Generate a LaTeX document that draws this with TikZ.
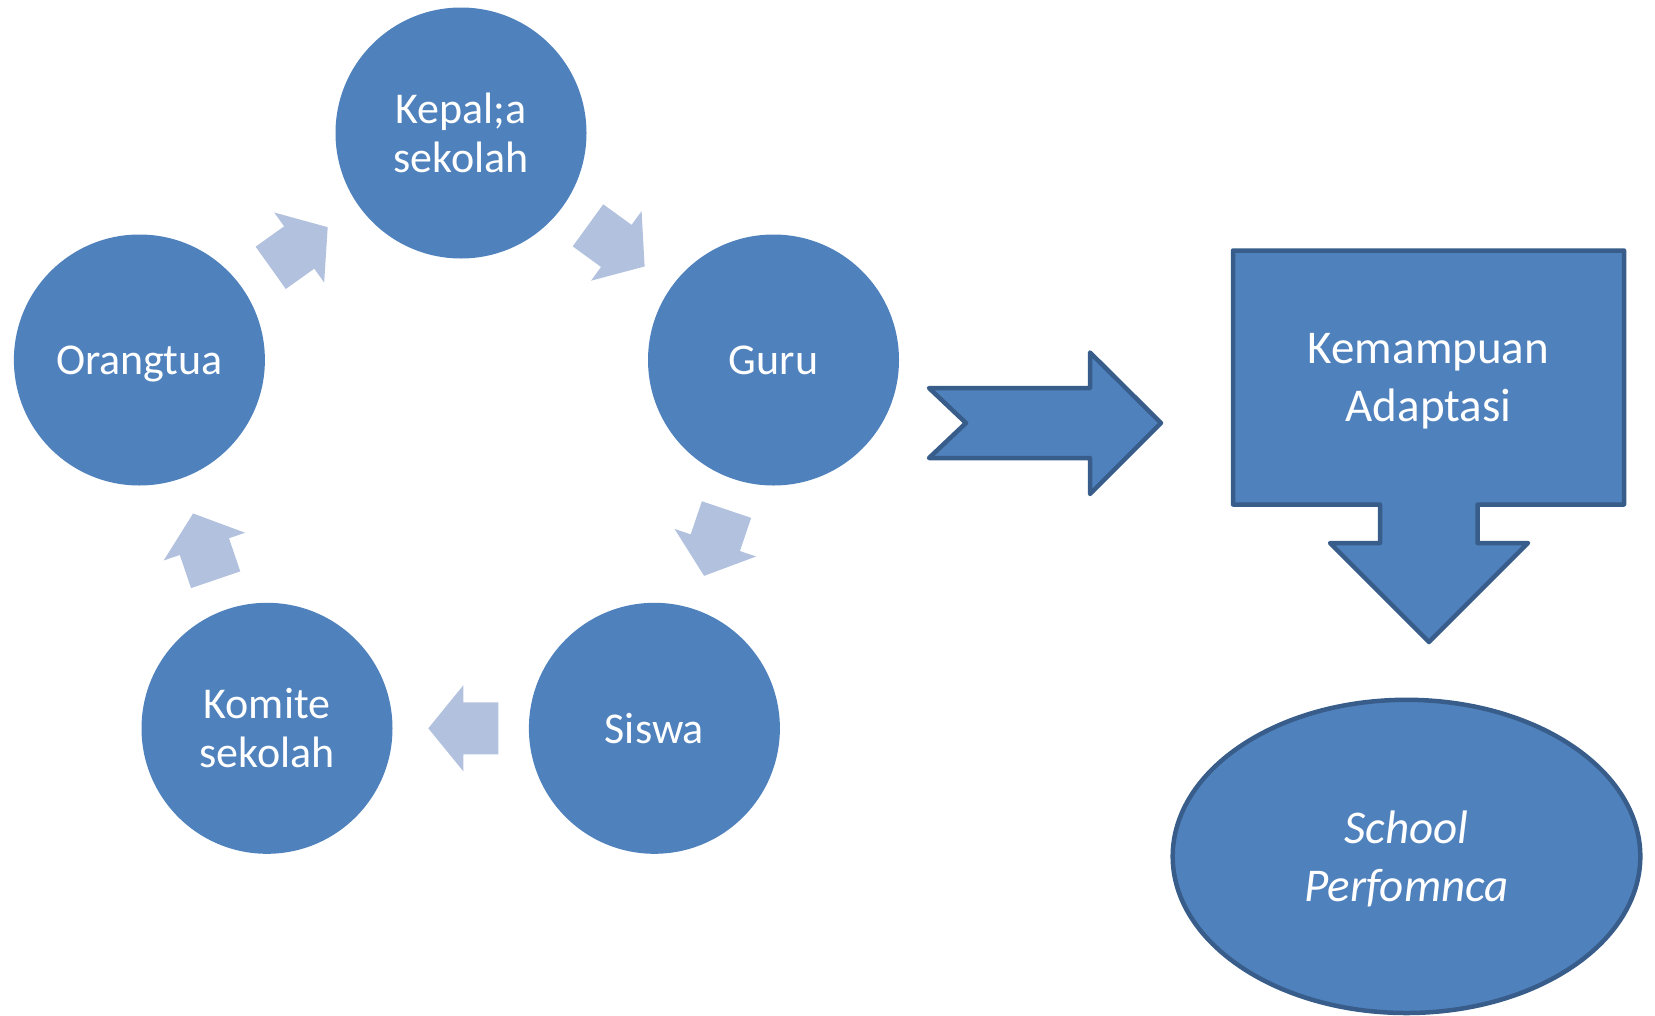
\documentclass[tikz,border=0pt]{standalone}
\usepackage{fontspec}
\setmainfont{Carlito}
\usetikzlibrary{shapes.geometric}
\definecolor{fillblue}{HTML}{4F81BD}
\definecolor{edgeblue}{HTML}{385D8A}
\definecolor{paleblue}{HTML}{B2C1DD}
\begin{document}
\begin{tikzpicture}[x=1pt,y=-1pt,
  member/.style={circle, fill=fillblue, minimum size=251pt, inner sep=0pt,
    text=white, align=center, text depth=0pt, font=\fontsize{44}{49}\selectfont},
  outlined/.style={fill=fillblue, draw=edgeblue, line width=4.5pt, line join=round},
  label/.style={text=white, align=center, text depth=0pt, font=\fontsize{47}{58}\selectfont},
  cyclearrow/.pic={\fill[paleblue] (-35,-26) -- (0,-26) -- (0,-43) -- (35,0)
    -- (0,43) -- (0,26) -- (-35,26) -- cycle;}
]
\useasboundingbox (0,0) rectangle (1655,1015);

% the cycle of school members
\node[member] (kepala)   at (461,133)     {Kepal;a\\sekolah};
\node[member] (guru)     at (773.5,360)   {Guru};
\node[member] (siswa)    at (654.4,728.3) {Siswa};
\node[member] (komite)   at (267,728.3)   {Komite\\sekolah};
\node[member] (orangtua) at (139.4,360)   {Orangtua};

% pale arrows running round the cycle
\pic[rotate=35.5]   at (299.2,247.5) {cyclearrow};
\pic[rotate=-36]    at (616.3,245.9) {cyclearrow};
\pic[rotate=-108.7] at (715.3,542.7) {cyclearrow};
\pic[rotate=180]    at (463.3,728.3) {cyclearrow};
\pic[rotate=108.8]  at (204.4,546.6) {cyclearrow};

% notched arrow towards the adaptation box
\draw[outlined] (929,388) -- (1090,388) -- (1090,352.5) -- (1161,423)
  -- (1090,494) -- (1090,458) -- (929,458) -- (966,423) -- cycle;

% box with a downward arrow below it
\draw[outlined] (1233,250.5) -- (1624,250.5) -- (1624,504.5) -- (1477.5,504.5)
  -- (1477.5,543) -- (1528,543) -- (1429,642) -- (1330,543) -- (1380,543)
  -- (1380,504.5) -- (1233,504.5) -- cycle;
\node[label] (adaptasi) at (1428.5,377.5) {Kemampuan\\Adaptasi};

% outcome
\node[ellipse, outlined, minimum width=467.6pt, minimum height=313.2pt,
  inner sep=0pt, label] (performa) at (1406.5,856.4)
  {\itshape School\\\itshape Perfomnca};
\end{tikzpicture}
\end{document}
